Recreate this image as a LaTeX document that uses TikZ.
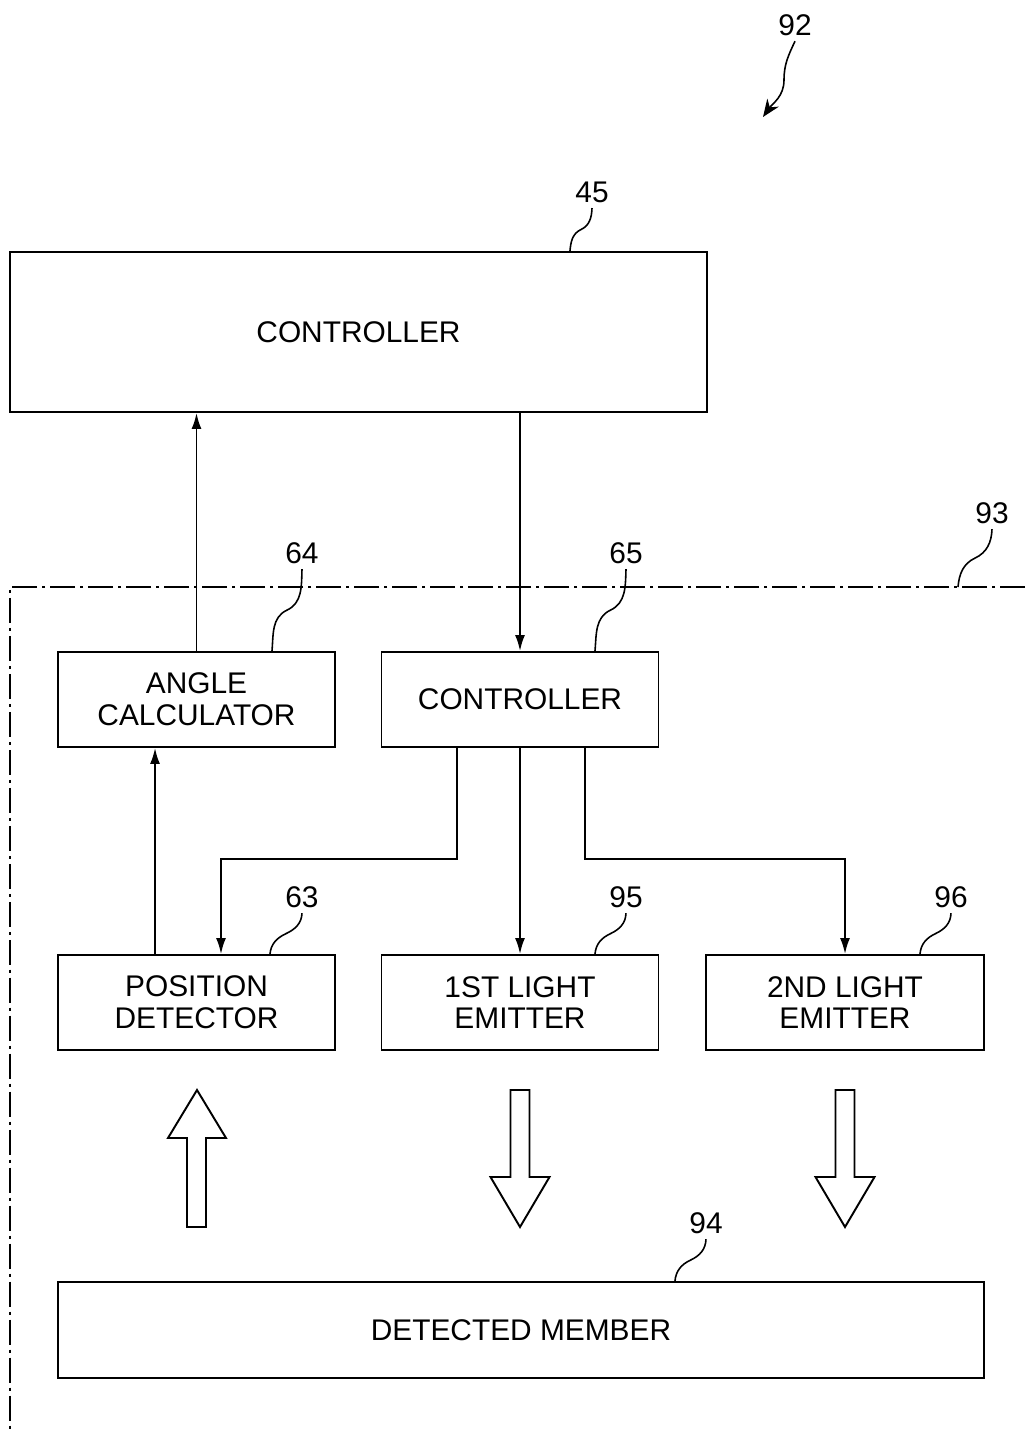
\documentclass[tikz,border=0pt]{standalone}
\usepackage{fontspec}
\setmainfont{Liberation Sans}
\usetikzlibrary{arrows.meta, calc}

% leader line from a reference number to its part
\newcommand{\leadline}[2]{\draw[leader] (#1) to[out=-92,in=25] ($(#1)!0.5!(#2)$) to[out=205,in=85] (#2);}

\begin{document}
\begin{tikzpicture}[x=0.02cm, y=-0.02cm,
    font=\fontsize{17}{18}\selectfont,
    block/.style={draw, line width=1.1pt, align=center, inner sep=0pt},
    unit/.style={block, minimum width=5.54cm, minimum height=1.9cm},
    refnum/.style={inner sep=3pt},
    link/.style={line width=1.1pt, -{Latex[length=0.32cm, width=0.2cm]}},
    leader/.style={line width=0.9pt},
    hollow/.style={draw, line width=1.1pt, fill=white, line join=miter},
    dashdot/.style={line width=0.9pt, dash pattern=on 0.5cm off 0.1cm on 0.06cm off 0.1cm}]
\useasboundingbox (0,0) rectangle (1025,1433);

% the blocks
\node[block, minimum width=13.94cm, minimum height=3.2cm] (ctrl) at (358.5,332) {CONTROLLER};
\node[unit] (angle) at (196.5,699.5) {ANGLE\\CALCULATOR};
\node[unit] (subctrl) at (520,699.5) {CONTROLLER};
\node[unit] (posdet) at (196.5,1002.5) {POSITION\\DETECTOR};
\node[unit] (emitA) at (520,1002.5) {1ST LIGHT\\EMITTER};
\node[unit, minimum width=5.56cm] (emitB) at (845,1002.5) {2ND LIGHT\\EMITTER};
\node[block, minimum width=18.52cm, minimum height=1.92cm] (member) at (521,1330) {DETECTED MEMBER};

% signal lines
\draw[link] (angle.north) -- (angle.north |- ctrl.south);
\draw[link] (ctrl.south -| subctrl.north) -- (subctrl.north);
\draw[link] ([xshift=-1.26cm]subctrl.south) -- ++(0,111) -| ([xshift=0.49cm]posdet.north);
\draw[link] (subctrl.south) -- (emitA.north);
\draw[link] ([xshift=1.3cm]subctrl.south) -- ++(0,111) -| (emitB.north);
\draw[link] ([xshift=-0.83cm]posdet.north) -- ([xshift=-0.83cm]angle.south);

% light paths
\draw[hollow] (187,1227) -- (187,1138) -- (168,1138) -- (197,1090) -- (226,1138) -- (206,1138) -- (206,1227) -- cycle;
\foreach \x in {520,845}
  \draw[hollow] (\x-9.5,1090) -- (\x-9.5,1177) -- (\x-29.5,1177) -- (\x,1227) -- (\x+29.5,1177) -- (\x+9.5,1177) -- (\x+9.5,1090) -- cycle;

% unit boundary
\draw[dashdot] (1025,587) -- (10,587) -- (10,1433);

% reference numbers
\node[refnum] (n92) at (795,25) {92};
\node[refnum] (n45) at (592,192) {45};
\node[refnum] (n93) at (992,513) {93};
\node[refnum] (n64) at (302,553) {64};
\node[refnum] (n65) at (626,553) {65};
\node[refnum] (n63) at (302,897) {63};
\node[refnum] (n95) at (626,897) {95};
\node[refnum] (n96) at (951,897) {96};
\node[refnum] (n94) at (706,1223) {94};

\coordinate (tip92) at (763,117);
\coordinate (on93) at (958,587);
\draw[leader, -{Stealth[length=0.35cm, width=0.28cm]}] (n92.south) to[out=-115,in=90] (784,80) to[out=-90,in=55] (tip92);
\leadline{n45.south}{[xshift=4.23cm]ctrl.north}
\leadline{n93.south}{on93}
\leadline{n64.south}{[xshift=1.51cm]angle.north}
\leadline{n65.south}{[xshift=1.5cm]subctrl.north}
\leadline{n63.south}{[xshift=1.47cm]posdet.north}
\leadline{n95.south}{[xshift=1.5cm]emitA.north}
\leadline{n96.south}{[xshift=1.5cm]emitB.north}
\leadline{n94.south}{[xshift=3.08cm]member.north}
\end{tikzpicture}
\end{document}
